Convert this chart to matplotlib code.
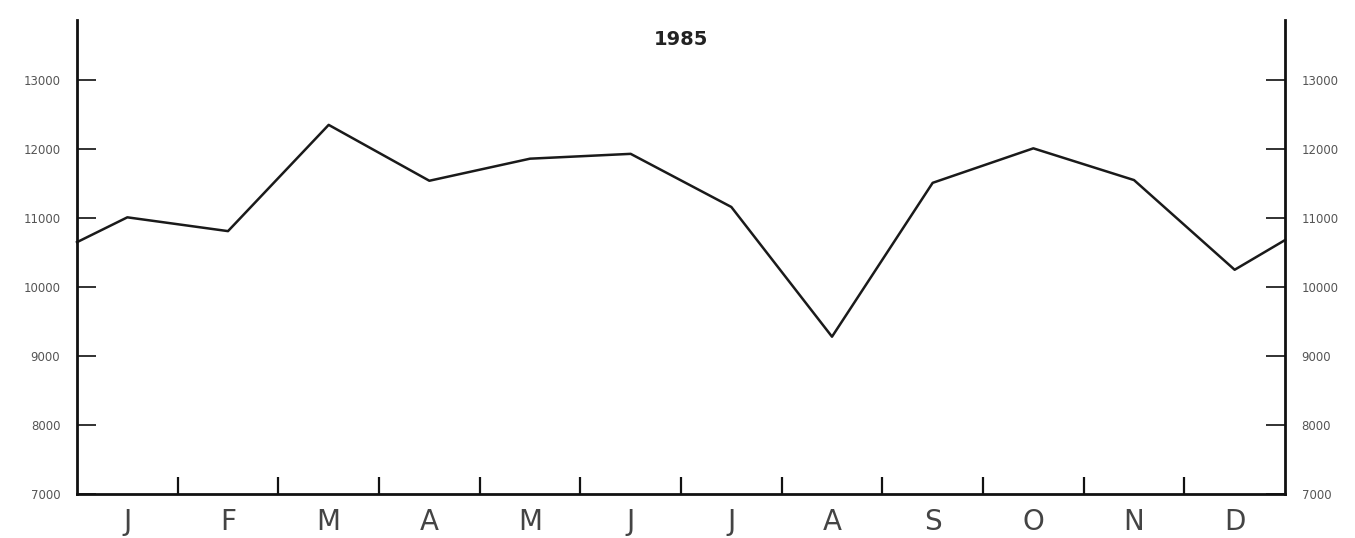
import matplotlib
matplotlib.use("Agg")
import matplotlib.pyplot as plt
import numpy as np

title = "1985"
months = ["J", "F", "M", "A", "M", "J", "J", "A", "S", "O", "N", "D"]
values = [11010, 10810, 12350, 11540, 11860, 11930, 11160, 9280, 11510, 12010, 11550, 10250]
# values where the line meets the left and right axes
edge_start = 10650
edge_end = 10680
yticks = [7000, 8000, 9000, 10000, 11000, 12000, 13000]

fig = plt.figure(figsize=(13.55, 5.38), dpi=100)
ax = fig.add_axes([77/1355, 44/538, (1285-77)/1355, (494-20)/538])

x = np.concatenate([[0], np.arange(len(months)) + 0.5, [len(months)]])
y = np.concatenate([[edge_start], values, [edge_end]])
ax.plot(x, y, color="#1a1a1a", lw=1.8, clip_on=False)

ax.set_xlim(0, len(months))
ax.set_ylim(7000, 13870)

for s in ["left", "right", "bottom"]:
    ax.spines[s].set_linewidth(2.0)
    ax.spines[s].set_color("#111111")
ax.spines["top"].set_visible(False)

ax.set_yticks(yticks)
ax.set_yticklabels([str(v) for v in yticks])
ax.tick_params(axis="y", direction="in", length=14, width=1.3, color="#222222",
               labelsize=8.5, labelcolor="#555555", pad=12, left=True, right=True,
               labelleft=True, labelright=True)

ax.set_xticks(np.arange(1, len(months)))
ax.set_xticklabels([])
ax.tick_params(axis="x", direction="in", length=12, width=1.6, color="#111111")
ax.set_xticks(np.arange(len(months)) + 0.5, minor=True)
ax.set_xticklabels(months, minor=True, fontsize=20, color="#444444")
ax.tick_params(axis="x", which="minor", length=0, pad=10)

ax.set_title(title, fontsize=14, fontweight="bold", color="#222222", pad=-18, y=1.0)

fig.savefig("out.png", dpi=100, facecolor="white")
